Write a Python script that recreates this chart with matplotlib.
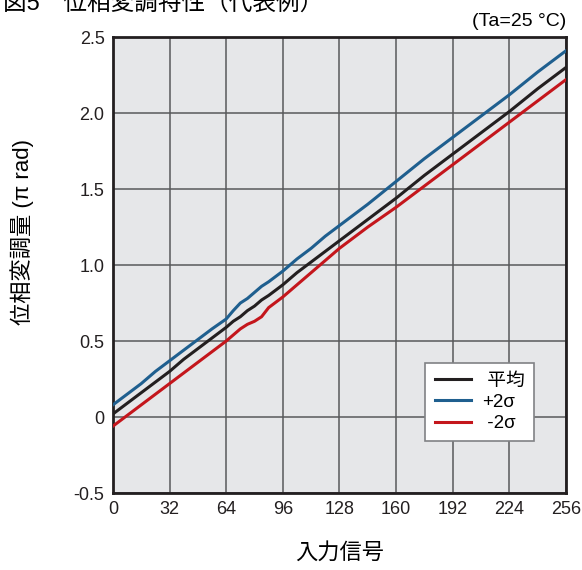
import matplotlib
matplotlib.use("Agg")
import matplotlib.pyplot as plt
import numpy as np

plt.rcParams["font.family"] = ["Liberation Sans", "Noto Sans CJK JP", "DejaVu Sans"]

# data
x_in = [0, 8, 16, 24, 32, 40, 48, 56, 64, 68, 72, 76, 80, 84, 88, 96, 104,
        112, 120, 128, 144, 160, 176, 192, 208, 224, 240, 256]

mean = [0.02, 0.09, 0.16, 0.23, 0.30, 0.38, 0.45, 0.52, 0.59, 0.63, 0.66, 0.70,
        0.73, 0.77, 0.80, 0.87, 0.95, 1.02, 1.09, 1.16, 1.30, 1.44, 1.59, 1.73,
        1.87, 2.01, 2.16, 2.30]

plus2s = [0.08, 0.15, 0.22, 0.30, 0.37, 0.44, 0.51, 0.58, 0.645, 0.70, 0.75, 0.78,
          0.82, 0.86, 0.89, 0.96, 1.04, 1.11, 1.19, 1.26, 1.40, 1.55, 1.70, 1.84,
          1.98, 2.12, 2.27, 2.41]

minus2s = [-0.06, 0.01, 0.08, 0.15, 0.22, 0.29, 0.36, 0.43, 0.50, 0.54, 0.58, 0.61,
           0.63, 0.66, 0.72, 0.79, 0.87, 0.95, 1.03, 1.11, 1.25, 1.38, 1.52, 1.66,
           1.80, 1.94, 2.08, 2.22]

x_ticks = [0, 32, 64, 96, 128, 160, 192, 224, 256]
y_ticks = [-0.5, 0, 0.5, 1.0, 1.5, 2.0, 2.5]
y_labels = ["-0.5", "0", "0.5", "1.0", "1.5", "2.0", "2.5"]

fig = plt.figure(figsize=(5.82, 5.70), dpi=100)
ax = fig.add_axes([0.194, 0.135, 0.7785, 0.80])
ax.set_facecolor("#e6e7e9")

ax.plot(x_in, mean, color="#231f20", lw=2.2, label=" 平均", zorder=3)
ax.plot(x_in, plus2s, color="#1f5f8f", lw=2.2, label="+2σ", zorder=3)
ax.plot(x_in, minus2s, color="#c4161c", lw=2.2, label=" -2σ", zorder=3)

ax.set_xlim(0, 256)
ax.set_ylim(-0.5, 2.5)
ax.set_xticks(x_ticks)
ax.set_yticks(y_ticks)
ax.set_yticklabels(y_labels)
ax.tick_params(length=0, labelsize=13, pad=6, colors="#231f20")
ax.grid(True, color="#58595b", lw=1.1)
ax.set_axisbelow(True)
for s in ax.spines.values():
    s.set_linewidth(2)
    s.set_color("#231f20")

ax.set_xlabel("入力信号", fontsize=16, va="top")
ax.xaxis.set_label_coords(0.5, -0.108)
ax.set_ylabel("位相変調量 (π rad)", fontsize=16, va="center")
ax.yaxis.set_label_coords(-0.201, 0.572)

leg = ax.legend(loc="upper right", bbox_to_anchor=(0.929, 0.285),
                frameon=True, fancybox=False, handlelength=1.95,
                handletextpad=0.55, borderpad=0.5, labelspacing=0.22,
                borderaxespad=0, prop={"size": 13.5})
leg.get_frame().set_edgecolor("#808285")
leg.get_frame().set_linewidth(1.2)
leg.get_frame().set_facecolor("white")
leg.get_frame().set_alpha(1)

fig.text(0.9725, 0.963, "(Ta=25 °C)", ha="right", va="center", fontsize=14)
fig.text(0.005, 0.993, "図5　位相変調特性（代表例）", ha="left", va="center",
         fontsize=17)

fig.savefig("out.png", dpi=100)
